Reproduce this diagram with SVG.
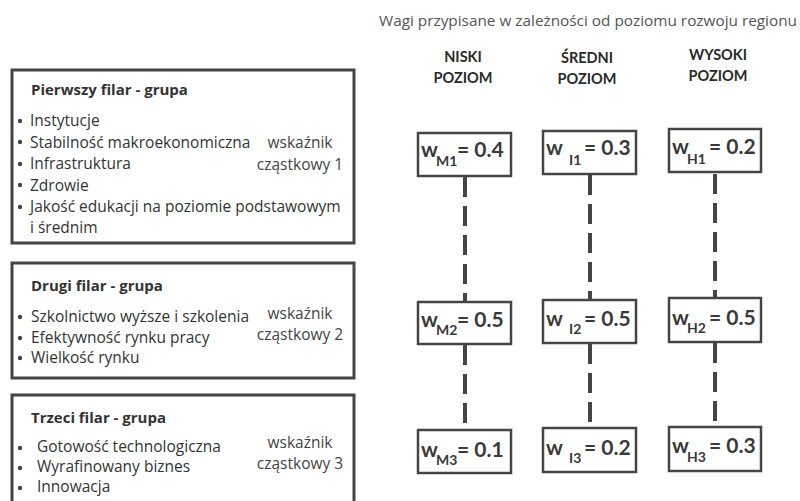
<svg xmlns="http://www.w3.org/2000/svg" width="800" height="501" viewBox="0 0 800 501">
<style>
.box{fill:#fff;stroke:#454545;stroke-width:3}
.wbox{fill:#fff;stroke:#454545;stroke-width:2.5}
.t{font-family:Lato,"Open Sans","Liberation Sans",sans-serif;fill:#333}
.o{font-family:"Open Sans","Liberation Sans",sans-serif;fill:#333}
.title{font-size:15px;font-weight:bold}
.item{font-size:15.5px}
.ind{font-size:15.5px;fill:#444;text-anchor:middle}
.head{font-size:14.5px;fill:#555;text-anchor:middle}
.lvl{font-size:14.5px;font-weight:bold;text-anchor:middle;fill:#2a2a2a}
.w{font-size:21px;font-weight:bold;fill:#3a3a3a}
.sub{font-size:14px;font-weight:bold;fill:#3a3a3a}
.dash{stroke:#454545;stroke-width:4;stroke-dasharray:20 9;fill:none}
.dot{fill:#444}
</style>
<rect width="800" height="501" fill="#fff"/>

<text class="o head" x="588" y="26" textLength="418" lengthAdjust="spacingAndGlyphs">Wagi przypisane w zależności od poziomu rozwoju regionu</text>

<g id="heading-niski"><text class="t lvl" x="463" y="62">NISKI</text><text class="t lvl" x="463" y="83">POZIOM</text></g>
<g id="heading-sredni"><text class="t lvl" x="587" y="63">ŚREDNI</text><text class="t lvl" x="587" y="84">POZIOM</text></g>
<g id="heading-wysoki"><text class="t lvl" x="718" y="60">WYSOKI</text><text class="t lvl" x="718" y="81">POZIOM</text></g>

<g id="filar1">
<rect class="box" x="12" y="70" width="342" height="173"/>
<text class="o title" x="31" y="95">Pierwszy filar - grupa</text>
<circle class="dot" cx="20" cy="121" r="2.2"/><text class="o item" x="30" y="126">Instytucje</text>
<circle class="dot" cx="20" cy="142" r="2.2"/><text class="o item" x="30" y="147.5">Stabilność makroekonomiczna</text>
<circle class="dot" cx="20" cy="164" r="2.2"/><text class="o item" x="30" y="169">Infrastruktura</text>
<circle class="dot" cx="20" cy="185" r="2.2"/><text class="o item" x="30" y="190.5">Zdrowie</text>
<circle class="dot" cx="20" cy="207" r="2.2"/><text class="o item" x="30" y="212">Jakość edukacji na poziomie podstawowym</text>
<text class="o item" x="30" y="233">i średnim</text>
<text class="o ind" x="300" y="148">wskaźnik</text>
<text class="o ind" x="300" y="170">cząstkowy 1</text>
</g>

<g id="filar2">
<rect class="box" x="12" y="263" width="342" height="115"/>
<text class="o title" x="31" y="291">Drugi filar - grupa</text>
<circle class="dot" cx="20" cy="317" r="2.2"/><text class="o item" x="31" y="322">Szkolnictwo wyższe i szkolenia</text>
<circle class="dot" cx="20" cy="338" r="2.2"/><text class="o item" x="31" y="343">Efektywność rynku pracy</text>
<circle class="dot" cx="20" cy="358" r="2.2"/><text class="o item" x="31" y="363">Wielkość rynku</text>
<text class="o ind" x="300" y="319">wskaźnik</text>
<text class="o ind" x="300" y="340">cząstkowy 2</text>
</g>

<g id="filar3">
<rect class="box" x="12" y="395" width="342" height="120"/>
<text class="o title" x="31" y="423">Trzeci filar - grupa</text>
<circle class="dot" cx="20" cy="448" r="2.2"/><text class="o item" x="37" y="452">Gotowość technologiczna</text>
<circle class="dot" cx="20" cy="468" r="2.2"/><text class="o item" x="37" y="472">Wyrafinowany biznes</text>
<circle class="dot" cx="20" cy="488" r="2.2"/><text class="o item" x="37" y="492">Innowacja</text>
<text class="o ind" x="300" y="448">wskaźnik</text>
<text class="o ind" x="300" y="469">cząstkowy 3</text>
</g>

<g id="connectors">
<line class="dash" x1="465" y1="177" x2="465" y2="301"/>
<line class="dash" x1="590" y1="175" x2="590" y2="299"/>
<line class="dash" x1="715" y1="174" x2="715" y2="298"/>
<line class="dash" x1="465" y1="345" x2="465" y2="429"/>
<line class="dash" x1="590" y1="344" x2="590" y2="427"/>
<line class="dash" x1="715" y1="343" x2="715" y2="426"/>
</g>

<g id="wM1"><rect class="wbox" x="418" y="133" width="93" height="43"/>
<text class="t"><tspan class="w" x="421" y="157">w</tspan><tspan class="sub" x="436" y="166">M1</tspan><tspan class="w" x="457" y="157">= 0.4</tspan></text></g>
<g id="wI1"><rect class="wbox" x="543" y="131" width="93" height="43"/>
<text class="t"><tspan class="w" x="546" y="155">w</tspan><tspan class="sub" x="569" y="165">I1</tspan><tspan class="w" x="584" y="155">= 0.3</tspan></text></g>
<g id="wH1"><rect class="wbox" x="669" y="129" width="92" height="43"/>
<text class="t"><tspan class="w" x="672" y="154">w</tspan><tspan class="sub" x="687" y="164">H1</tspan><tspan class="w" x="709" y="154">= 0.2</tspan></text></g>

<g id="wM2"><rect class="wbox" x="418" y="302" width="93" height="42"/>
<text class="t"><tspan class="w" x="421" y="327">w</tspan><tspan class="sub" x="436" y="335">M2</tspan><tspan class="w" x="457" y="327">= 0.5</tspan></text></g>
<g id="wI2"><rect class="wbox" x="543" y="300" width="93" height="43"/>
<text class="t"><tspan class="w" x="546" y="326">w</tspan><tspan class="sub" x="569" y="334">I2</tspan><tspan class="w" x="584" y="326">= 0.5</tspan></text></g>
<g id="wH2"><rect class="wbox" x="669" y="298" width="92" height="44"/>
<text class="t"><tspan class="w" x="672" y="325">w</tspan><tspan class="sub" x="687" y="333">H2</tspan><tspan class="w" x="709" y="325">= 0.5</tspan></text></g>

<g id="wM3"><rect class="wbox" x="418" y="430" width="93" height="43"/>
<text class="t"><tspan class="w" x="421" y="457">w</tspan><tspan class="sub" x="436" y="465">M3</tspan><tspan class="w" x="457" y="457">= 0.1</tspan></text></g>
<g id="wI3"><rect class="wbox" x="543" y="428" width="93" height="44"/>
<text class="t"><tspan class="w" x="546" y="455">w</tspan><tspan class="sub" x="569" y="463">I3</tspan><tspan class="w" x="584" y="455">= 0.2</tspan></text></g>
<g id="wH3"><rect class="wbox" x="669" y="427" width="92" height="44"/>
<text class="t"><tspan class="w" x="672" y="453">w</tspan><tspan class="sub" x="687" y="462">H3</tspan><tspan class="w" x="709" y="453">= 0.3</tspan></text></g>
</svg>
